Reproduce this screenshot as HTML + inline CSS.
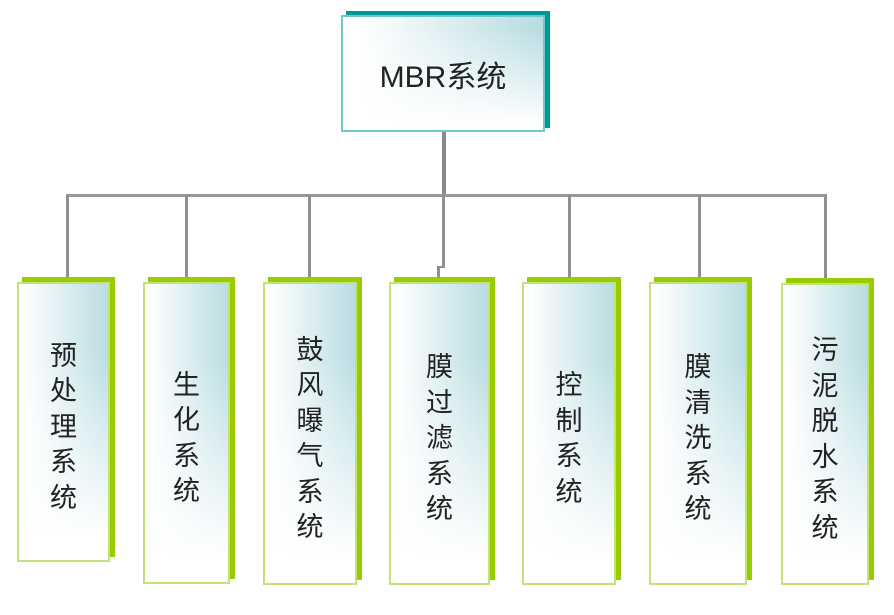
<!DOCTYPE html>
<html><head><meta charset="utf-8">
<style>
html,body{margin:0;padding:0;background:#fff;}
body{width:894px;height:615px;position:relative;overflow:hidden;font-family:"Liberation Sans","Noto Sans CJK SC",sans-serif;}
.a{position:absolute;}
.ln{position:absolute;background:#8f8f8f;}
.sh{position:absolute;background:#99cc00;}
.bx{position:absolute;box-sizing:border-box;border:2px solid #c2e37a;
 background:linear-gradient(to bottom,rgba(255,255,255,0) 25%,#fff 92%),linear-gradient(to right,#fff 5%,#b9dde2 100%);
 display:flex;align-items:center;justify-content:center;}
.tx{font-family:"Noto Sans CJK SC","WenQuanYi Zen Hei",sans-serif;font-size:27px;line-height:35.5px;color:#222;text-align:center;width:30px;padding-top:5px;}
.tsh{position:absolute;background:#009999;}
.tbx{position:absolute;box-sizing:border-box;border:2px solid #70c8c8;
 background:linear-gradient(to bottom,rgba(255,255,255,0) 10%,#fff 95%),linear-gradient(to right,#fff 10%,#b7dce1 100%);
 display:flex;align-items:center;justify-content:center;}
</style></head><body>

<!-- connectors -->
<div class="ln" style="left:442px;top:131px;width:4px;height:65px;background:#888;"></div>
<div class="ln" style="left:66px;top:194px;width:761px;height:3px;background:#999;"></div>
<div class="ln" style="left:66px;top:195px;width:3px;height:84px;"></div>
<div class="ln" style="left:185px;top:195px;width:3px;height:84px;"></div>
<div class="ln" style="left:308px;top:195px;width:3px;height:84px;"></div>
<div class="ln" style="left:442px;top:195px;width:3px;height:73px;"></div>
<div class="ln" style="left:437px;top:266px;width:8px;height:2px;"></div>
<div class="ln" style="left:437px;top:266px;width:3px;height:13px;"></div>
<div class="ln" style="left:568px;top:195px;width:3px;height:84px;"></div>
<div class="ln" style="left:698px;top:195px;width:3px;height:84px;"></div>
<div class="ln" style="left:824px;top:195px;width:3px;height:84px;"></div>

<!-- top box -->
<div class="tsh" style="left:346px;top:11px;width:204px;height:117px;"></div>
<div class="tbx" style="left:341px;top:15px;width:204px;height:117px;">
 <div style="font-size:30px;color:#222;letter-spacing:0;">MBR<span style="font-family:'Noto Sans CJK SC',sans-serif;">系统</span></div>
</div>

<!-- box 1 -->
<div class="sh" style="left:22px;top:277px;width:93px;height:280px;"></div>
<div class="bx" style="left:17px;top:282px;width:93px;height:280px;"><div class="tx">预<br>处<br>理<br>系<br>统</div></div>
<!-- box 2 -->
<div class="sh" style="left:148px;top:277px;width:87px;height:302px;"></div>
<div class="bx" style="left:143px;top:282px;width:87px;height:302px;"><div class="tx">生<br>化<br>系<br>统</div></div>
<!-- box 3 -->
<div class="sh" style="left:268px;top:277px;width:94px;height:303px;"></div>
<div class="bx" style="left:263px;top:282px;width:94px;height:303px;"><div class="tx">鼓<br>风<br>曝<br>气<br>系<br>统</div></div>
<!-- box 4 -->
<div class="sh" style="left:394px;top:277px;width:101px;height:303px;"></div>
<div class="bx" style="left:389px;top:282px;width:101px;height:303px;"><div class="tx">膜<br>过<br>滤<br>系<br>统</div></div>
<!-- box 5 -->
<div class="sh" style="left:527px;top:277px;width:94px;height:303px;"></div>
<div class="bx" style="left:522px;top:282px;width:94px;height:303px;"><div class="tx">控<br>制<br>系<br>统</div></div>
<!-- box 6 -->
<div class="sh" style="left:654px;top:277px;width:98px;height:303px;"></div>
<div class="bx" style="left:649px;top:282px;width:98px;height:303px;"><div class="tx">膜<br>清<br>洗<br>系<br>统</div></div>
<!-- box 7 -->
<div class="sh" style="left:786px;top:278px;width:88px;height:302px;"></div>
<div class="bx" style="left:781px;top:283px;width:88px;height:302px;"><div class="tx">污<br>泥<br>脱<br>水<br>系<br>统</div></div>

</body></html>
